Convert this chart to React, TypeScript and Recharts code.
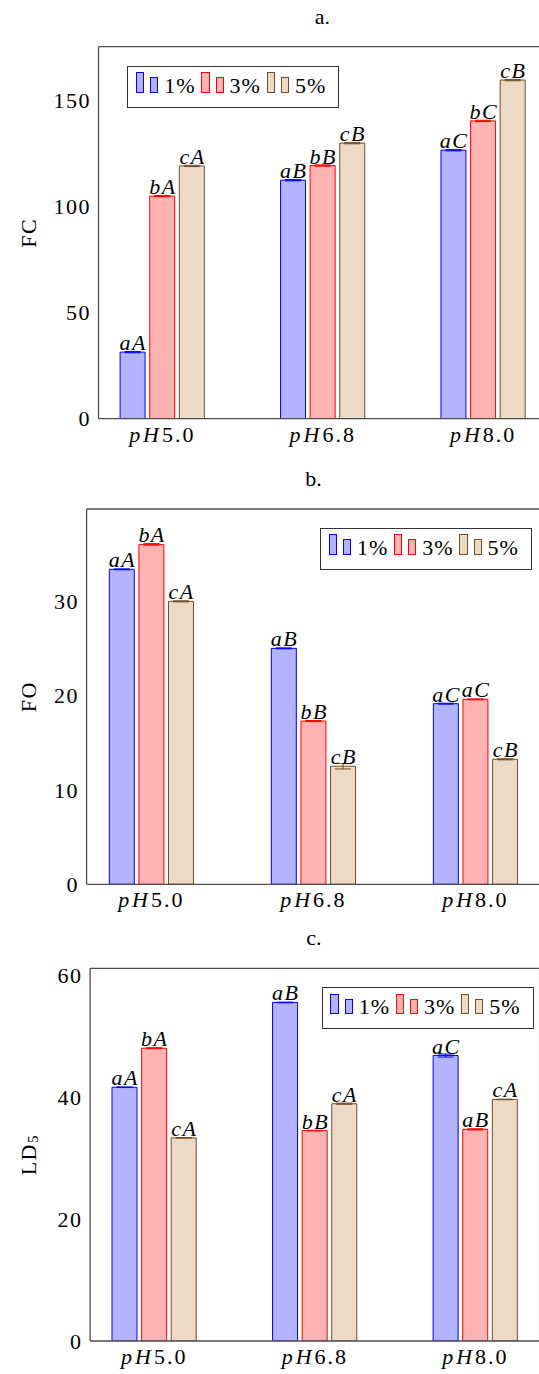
import React from 'react';
import { BarChart, Bar, XAxis, YAxis, ErrorBar, LabelList, Legend } from 'recharts';

// categories and series
const categories = ['pH5.0', 'pH6.8', 'pH8.0'];
const seriesNames = ['1%', '3%', '5%'];

// a. FC
const fc1 = [31.3, 112.2, 126.3];
const fc3 = [104.7, 119.1, 140.1];
const fc5 = [118.9, 129.6, 159.3];
const fcErr1 = [0.3, 0.3, 0.3];
const fcErr3 = [0.3, 0.3, 0.3];
const fcErr5 = [0.3, 0.3, 0.3];
const fcTag1 = ['aA', 'aB', 'aC'];
const fcTag3 = ['bA', 'bB', 'bC'];
const fcTag5 = ['cA', 'cB', 'cB'];
const fcTicks = [0, 50, 100, 150];

// b. FO
const fo1 = [33.36, 24.99, 19.13];
const fo3 = [36.0, 17.29, 19.59];
const fo5 = [29.97, 12.5, 13.24];
const foErr1 = [0.05, 0.05, 0.05];
const foErr3 = [0.08, 0.06, 0.05];
const foErr5 = [0.06, 0.28, 0.06];
const foTag1 = ['aA', 'aB', 'aC'];
const foTag3 = ['bA', 'bB', 'aC'];
const foTag5 = ['cA', 'cB', 'cB'];
const foTicks = [0, 10, 20, 30];

// c. LD5
const ld1 = [41.6, 55.5, 46.8];
const ld3 = [48.0, 34.5, 34.7];
const ld5 = [33.3, 38.9, 39.6];
const ldErr1 = [0.05, 0.05, 0.25];
const ldErr3 = [0.08, 0.05, 0.1];
const ldErr5 = [0.05, 0.1, 0.05];
const ldTag1 = ['aA', 'aB', 'aC'];
const ldTag3 = ['bA', 'bB', 'aB'];
const ldTag5 = ['cA', 'cA', 'cA'];
const ldTicks = [0, 20, 40, 60];

const buildRows = (v: number[][], e: number[][], t: string[][]) =>
  categories.map((cat, i) => ({
    cat,
    v1: v[0][i], v3: v[1][i], v5: v[2][i],
    e1: e[0][i], e3: e[1][i], e5: e[2][i],
    t1: t[0][i], t3: t[1][i], t5: t[2][i],
  }));

const fcRows = buildRows([fc1, fc3, fc5], [fcErr1, fcErr3, fcErr5], [fcTag1, fcTag3, fcTag5]);
const foRows = buildRows([fo1, fo3, fo5], [foErr1, foErr3, foErr5], [foTag1, foTag3, foTag5]);
const ldRows = buildRows([ld1, ld3, ld5], [ldErr1, ldErr3, ldErr5], [ldTag1, ldTag3, ldTag5]);

const FONT = "'Liberation Serif', 'DejaVu Serif', serif";
const AXIS = '#4d4d4d';

// pgfplots bar cycle list
const SERIES = [
  { key: '1', stroke: '#0000ff', fill: '#b3b3ff' },
  { key: '3', stroke: '#ff0000', fill: '#ffb3b3' },
  { key: '5', stroke: '#734d26', fill: '#ecd9c6' },
];

const CatTick = (props: any) => {
  const { x, y, payload } = props;
  const s = String(payload.value);
  return (
    <text x={x} y={y + 23} textAnchor="middle" style={{ fontFamily: FONT, fontSize: 22 }} fill="#000">
      <tspan style={{ fontStyle: 'italic', letterSpacing: 3 }}>{s.slice(0, 2)}</tspan>
      <tspan style={{ letterSpacing: 2 }}>{s.slice(2)}</tspan>
    </text>
  );
};

const BarTag = (props: any) => {
  const x = Number(props.x), y = Number(props.y), w = Number(props.width);
  return (
    <text x={x + w / 2 + 0.7} y={y - 2} textAnchor="middle" fill="#000"
      style={{ fontFamily: FONT, fontStyle: 'italic', fontSize: 22, letterSpacing: 1.5 }}>
      {props.value}
    </text>
  );
};

const YTitle = (props: any) => {
  const vb = props.viewBox || { x: 0, y: 0, height: 0 };
  const cx = vb.x + 28.5;
  const cy = vb.y + vb.height / 2;
  return (
    <text x={cx} y={cy} transform={`rotate(-90, ${cx}, ${cy})`} textAnchor="middle" dominantBaseline="central"
      style={{ fontFamily: FONT, fontSize: 22, letterSpacing: 1.5 }} fill="#000">
      {props.main}
      {props.sub && <tspan style={{ fontSize: 15 }} dy={5}>{props.sub}</tspan>}
    </text>
  );
};

const LegendBox = (props: any) => {
  const payload = props.payload || [];
  return (
    <div style={{
      display: 'inline-block', border: '1.3px solid #333', height: 42, boxSizing: 'border-box', background: '#fff',
      whiteSpace: 'nowrap', fontFamily: FONT, fontSize: 22, lineHeight: '38px', paddingRight: 12, color: '#000',
      letterSpacing: 1,
    }}>
      {payload.map((p: any, i: number) => {
        const s = SERIES[i] || SERIES[0];
        const rect = { display: 'inline-block', border: `1px solid ${s.stroke}`, background: s.fill, boxSizing: 'border-box' as const, verticalAlign: 'baseline' };
        return (
          <span key={i} style={{ marginLeft: i === 0 ? 7.7 : 5.7 }}>
            <span style={{ ...rect, width: 8.3, height: 20.7 }} />
            <span style={{ ...rect, width: 8, height: 15.6, marginLeft: 6 }} />
            <span style={{ marginLeft: 6 }}>{p.value}</span>
          </span>
        );
      })}
    </div>
  );
};

interface PanelProps {
  top: number; title: string; titleX: number; yMain: string; ySub?: string; rows: any[];
  domain: [number, number]; ticks: number[];
  plotLeft: number; plotRight: number; plotTop: number; plotBottom: number; pad: number;
  legendX: number; legendY: number;
}

const Panel = (p: PanelProps) => {
  const height = p.plotBottom + 40;
  const lineStyle = { stroke: AXIS, strokeWidth: 1.3 };
  return (
    <div style={{ position: 'absolute', left: 0, top: p.top, width: p.plotRight, height }}>
      <div style={{
        position: 'absolute', left: p.titleX - 40, width: 80, top: p.plotTop - 22.5 - 19.4, textAlign: 'center',
        fontFamily: FONT, fontSize: 22, lineHeight: '24px', color: '#000',
      }}>{p.title}</div>
      <div style={{ position: 'absolute', left: 0, top: 0 }}>
        <BarChart width={p.plotRight} height={height} data={p.rows} barSize={25} barGap={4.6}
          margin={{ top: p.plotTop, right: 0, bottom: 0, left: 0 }}>
          <XAxis xAxisId="b" dataKey="cat" height={40} interval={0} padding={{ left: p.pad, right: p.pad }}
            tickSize={0} tickMargin={0} tickLine={false} axisLine={lineStyle} tick={<CatTick />} />
          <XAxis xAxisId="t" dataKey="cat" orientation="top" mirror interval={0} padding={{ left: p.pad, right: p.pad }}
            tick={false} tickSize={9} tickLine={{ stroke: AXIS, strokeWidth: 1 }} axisLine={lineStyle} />
          <YAxis yAxisId="l" type="number" width={p.plotLeft} domain={p.domain} ticks={p.ticks} allowDataOverflow
            tickSize={0} tickMargin={7.5} tickLine={false} axisLine={lineStyle}
            tick={{ fill: '#000', fontSize: 22, fontFamily: FONT, letterSpacing: 1.5 }}
            label={{ value: p.yMain, content: (lp: any) => <YTitle {...lp} main={p.yMain} sub={p.ySub} /> }} />
          <YAxis yAxisId="lm" type="number" mirror domain={p.domain} ticks={p.ticks} allowDataOverflow
            tick={false} tickSize={10} axisLine={false} tickLine={{ stroke: AXIS, strokeWidth: 1 }} />
          <YAxis yAxisId="r" type="number" orientation="right" mirror domain={p.domain} ticks={p.ticks} allowDataOverflow
            tick={false} tickSize={10} axisLine={lineStyle} tickLine={{ stroke: AXIS, strokeWidth: 1 }} />
          <Legend layout="horizontal" verticalAlign="middle" align="center" content={<LegendBox />}
            wrapperStyle={{ left: p.legendX, top: p.legendY, width: 'auto' }} />
          {SERIES.map((s, i) => (
            <Bar key={s.key} xAxisId="b" yAxisId="l" dataKey={'v' + s.key} name={seriesNames[i]}
              fill={s.fill} stroke={s.stroke} strokeWidth={1} isAnimationActive={false}>
              <ErrorBar dataKey={'e' + s.key} width={8} stroke={s.stroke} strokeWidth={1} isAnimationActive={false} />
              <LabelList dataKey={'t' + s.key} content={BarTag} />
            </Bar>
          ))}
        </BarChart>
      </div>
    </div>
  );
};

export default function App() {
  return (
    <div style={{ position: 'absolute', left: 0, top: 0, width: 539, height: 1374, overflow: 'hidden', background: '#fff' }}>
      <Panel top={0} title="a." titleX={322.4} yMain="FC" rows={fcRows} domain={[0, 175]} ticks={fcTicks}
        plotLeft={98.5} plotRight={547} plotTop={46.7} plotBottom={418.7} pad={-16.4} legendX={127.3} legendY={65.7} />
      <Panel top={460} title="b." titleX={313.5} yMain="FO" rows={foRows} domain={[0, 39.75]} ticks={foTicks}
        plotLeft={86.6} plotRight={540.1} plotTop={49} plotBottom={424.3} pad={-16.3} legendX={320} legendY={68} />
      <Panel top={920} title="c." titleX={313.9} yMain="LD" ySub="5" rows={ldRows} domain={[0, 61.1]} ticks={ldTicks}
        plotLeft={90.1} plotRight={539.6} plotTop={48.3} plotBottom={421} pad={-16.1} legendX={321.7} legendY={67.3} />
    </div>
  );
}
